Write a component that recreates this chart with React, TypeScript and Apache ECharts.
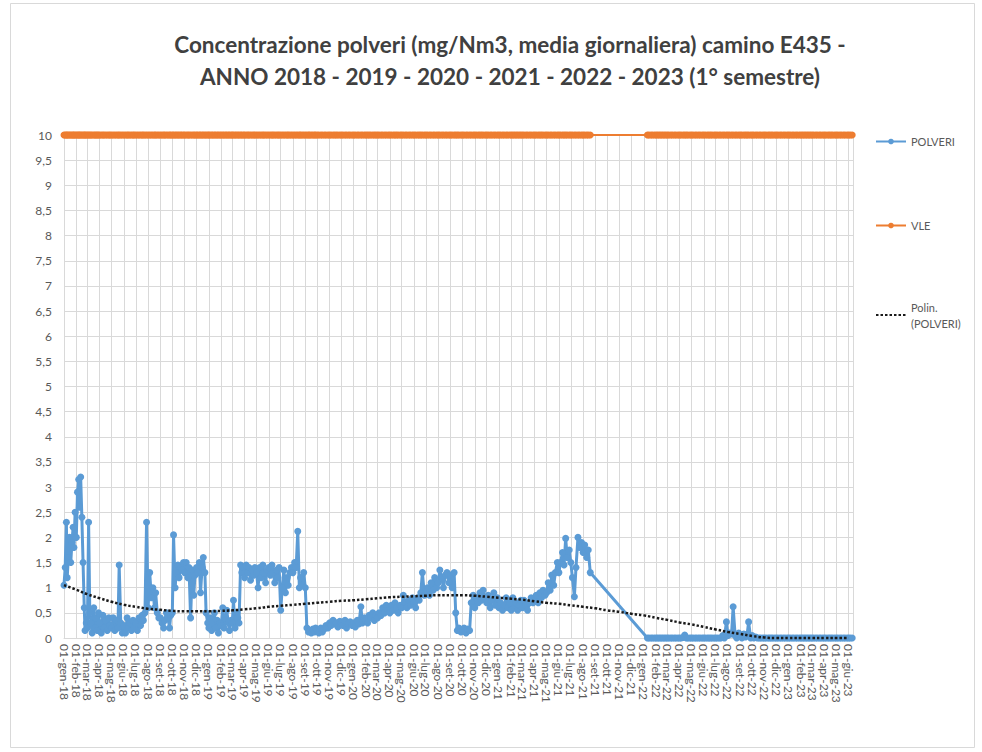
import React, { useEffect, useRef } from 'react';
import * as echarts from 'echarts';

const MONTHS_IT = ['gen', 'feb', 'mar', 'apr', 'mag', 'giu', 'lug', 'ago', 'set', 'ott', 'nov', 'dic'];
const START_YEAR = 2018;
const X_MIN: [number, number, number] = [2018, 0, 1];
const X_MAX: [number, number, number] = [2023, 5, 12];
const VLE_LIMIT = 10;
const Y_MIN = 0;
const Y_MAX = 10;
const Y_STEP = 0.5;

const TITLE_LINE_1 = 'Concentrazione polveri (mg/Nm3, media giornaliera) camino E435 -';
const TITLE_LINE_2 = 'ANNO 2018 - 2019 - 2020 - 2021 - 2022 - 2023 (1° semestre)';
const SERIES_NAMES = ['POLVERI', 'VLE', 'Polin. (POLVERI)'];

type M = (number | null)[];

// POLVERI daily concentration, samples spread through each month (gen..dic)
const polveri2018: M[] = [
  [1.05, 1.4, 2.3, 1.2, 1.6, 2.0, 1.5, 1.9, 2.2, 1.8, 2.5],
  [2.0, 2.9, 3.15, 2.6, 3.2, 2.4, 1.5, 0.6, 0.15, 0.3],
  [0.2, 2.3, 0.5, 0.3, 0.1, 0.6, 0.2, 0.4, 0.15, 0.5],
  [0.3, 0.1, 0.45, 0.2, 0.35, 0.15, 0.4, 0.25],
  [0.2, 0.4, 0.15, 0.35, 0.2, 1.45, 0.3, 0.1],
  [0.25, 0.1, 0.4, 0.2, 0.3, 0.15, 0.35, 0.2],
  [0.3, 0.15, 0.4, 0.25, 0.45, 0.35, 0.5, 2.3],
  [0.6, 1.3, 0.8, 1.0, 0.6, 0.9, 0.5, 0.4],
  [0.4, 0.3, 0.2, 0.35, 0.5, 0.4, 0.2, 0.45],
  [0.5, 2.05, 1.0, 1.3, 1.45, 1.2, 1.4, 1.35, 1.5],
  [1.3, 1.5, 1.2, 1.4, 0.4, 1.35, 0.85, 1.25],
  [1.4, 1.3, 1.5, 0.9, 1.4, 1.6, 1.3, 0.5, 0.3],
];
const polveri2019: M[] = [
  [0.2, 0.4, 0.15, 0.3, 0.5, 0.2, 0.35, 0.1, 0.3],
  [0.25, 0.6, 0.2, 0.4, 0.55, 0.3, 0.15, 0.35],
  [0.3, 0.75, 0.2, 0.5, 0.4, 0.3, 1.45, 1.3, 1.4],
  [1.2, 1.45, 1.3, 1.4, 1.15, 1.35, 1.25, 1.4],
  [1.3, 1.0, 1.4, 1.2, 1.45, 1.3, 1.1, 1.35],
  [1.4, 1.25, 1.45, 1.3, 1.1, 1.35, 1.2, 1.4],
  [0.55, 1.0, 1.35, 0.9, 1.2, 1.05, 1.3, 1.4],
  [1.3, 1.5, 1.4, 2.12, 1.0, 1.2, 1.05, 1.3],
  [1.0, 0.2, 0.12, 0.15, 0.1, 0.18, 0.12, 0.2],
  [0.15, 0.1, 0.2, 0.12, 0.18, 0.25, 0.2],
  [0.3, 0.25, 0.35, 0.28, 0.3, 0.22, 0.33],
  [0.3, 0.25, 0.35, 0.2, 0.28, 0.32, 0.25],
];
const polveri2020: M[] = [
  [0.3, 0.22, 0.35, 0.28, 0.62, 0.3, 0.4],
  [0.35, 0.3, 0.45, 0.4, 0.5, 0.35, 0.45],
  [0.4, 0.5, 0.45, 0.6, 0.5, 0.65, 0.55],
  [0.5, 0.65, 0.55, 0.7, 0.6, 0.5, 0.65],
  [0.6, 0.85, 0.7, 0.6, 0.75, 0.65, 0.8],
  [0.7, 0.6, 0.8, 0.75, 0.9, 1.3, 0.85],
  [0.9, 1.0, 0.85, 1.1, 0.95, 1.2, 1.0],
  [1.1, 1.35, 1.2, 1.0, 1.25, 1.3, 1.1],
  [1.25, 1.0, 1.3, 0.5, 0.15, 0.2, 0.12],
  [0.15, 0.2, 0.1, 0.18, 0.15, 0.7, 0.85],
  [0.6, 0.8, 0.7, 0.9, 0.75, 0.95, 0.8],
  [0.7, 0.85, 0.6, 0.75, 0.9, 0.65, 0.8],
];
const polveri2021: M[] = [
  [0.6, 0.7, 0.55, 0.65, 0.8, 0.6, 0.7],
  [0.55, 0.8, 0.6, 0.7, 0.55, 0.65, 0.75],
  [0.6, 0.75, 0.65, 0.55, 0.7, 0.8, 0.7],
  [0.75, 0.85, 0.7, 0.9, 0.8, 0.95, 0.85],
  [0.9, 1.1, 0.95, 1.25, 1.05, 1.3, 1.5],
  [1.3, 1.5, 1.7, 1.45, 1.98, 1.6, 1.75],
  [1.5, 1.2, 0.82, 1.4, 2.0, 1.8, 1.9],
  [1.7, 1.85, 1.6, 1.75, 1.3, null, null],
  [],
  [],
  [],
  [],
];
const polveri2022: M[] = [
  [null, null, 0, 0, 0, 0, 0],
  [0, 0, 0, 0, 0, 0, 0],
  [0, 0, 0, 0, 0, 0, 0],
  [0, 0, 0.01, 0.06, 0, 0, 0],
  [0, 0, 0, 0, 0, 0, 0],
  [0, 0, 0, 0, 0, 0, 0],
  [0, 0, 0, 0, 0.05, 0, 0.32],
  [0.05, 0.1, 0.08, 0.62, 0.05, 0, 0.1],
  [0.05, 0, 0.08, 0.02, 0.05, 0.32, 0],
  [0.05, 0, 0.02, 0, 0, 0, 0],
  [0, 0, 0, 0, 0, 0, 0],
  [0, 0, 0, 0, 0, 0, 0],
];
const polveri2023: M[] = [
  [0, 0, 0, 0, 0, 0, 0],
  [0, 0, 0, 0, 0, 0, 0],
  [0, 0, 0, 0, 0, 0, 0],
  [0, 0, 0, 0, 0, 0, 0],
  [0, 0, 0, 0, 0, 0, 0],
  [0, 0, 0, null, null, null, null],
];
const polveriYears = [polveri2018, polveri2019, polveri2020, polveri2021, polveri2022, polveri2023];

// Polynomial trend line, value at the 1st of each month (gen-18 .. giu-23)
const trend2018 = [1.05, 0.96, 0.87, 0.79, 0.72, 0.66, 0.62, 0.58, 0.56, 0.54, 0.53, 0.53];
const trend2019 = [0.53, 0.54, 0.55, 0.57, 0.59, 0.62, 0.64, 0.66, 0.68, 0.7, 0.72, 0.74];
const trend2020 = [0.75, 0.77, 0.79, 0.81, 0.82, 0.83, 0.84, 0.85, 0.85, 0.85, 0.84, 0.82];
const trend2021 = [0.8, 0.78, 0.76, 0.73, 0.7, 0.68, 0.65, 0.62, 0.59, 0.55, 0.52, 0.48];
const trend2022 = [0.45, 0.4, 0.36, 0.31, 0.27, 0.22, 0.17, 0.12, 0.08, 0.04, 0.01, 0.0];
const trend2023 = [0.0, 0.0, 0.0, 0.0, 0.0, 0.0];
const trendYears = [trend2018, trend2019, trend2020, trend2021, trend2022, trend2023];

function buildPolveri(): [number, number][] {
  const out: [number, number][] = [];
  polveriYears.forEach((year, yi) => {
    const y = START_YEAR + yi;
    year.forEach((vals, mi) => {
      const days = new Date(y, mi + 1, 0).getDate();
      const n = Math.max(vals.length, 7);
      vals.forEach((v, i) => {
        if (v === null) return;
        const day = 1 + Math.round((i * days) / n);
        out.push([new Date(y, mi, day).getTime(), v]);
      });
    });
  });
  return out;
}

function buildTrend(): [number, number][] {
  const out: [number, number][] = [];
  trendYears.forEach((year, yi) => {
    year.forEach((v, mi) => out.push([new Date(START_YEAR + yi, mi, 1).getTime(), v]));
  });
  return out;
}

const FONT = 'Lato, "Open Sans", sans-serif';
const LABEL_COLOR = '#595959';
const GRID_COLOR = '#d9d9d9';

export default function App() {
  const ref = useRef<HTMLDivElement>(null);
  useEffect(() => {
    if (!ref.current) return;
    const chart = echarts.init(ref.current, undefined, { renderer: 'svg' });
    const polveri = buildPolveri();
    const vle = polveri.map((p) => [p[0], VLE_LIMIT]);
    const trend = buildTrend();
    const xMin = new Date(X_MIN[0], X_MIN[1], X_MIN[2]).getTime();
    const xMax = new Date(X_MAX[0], X_MAX[1], X_MAX[2]).getTime();
    const DAY = 86400000;
    const legendText = { fontFamily: FONT, fontSize: 11, color: LABEL_COLOR };

    chart.setOption({
      animation: false,
      backgroundColor: '#ffffff',
      textStyle: { fontFamily: FONT },
      title: {
        text: TITLE_LINE_1 + '\n' + TITLE_LINE_2,
        left: 505,
        top: 23,
        textAlign: 'center',
        textStyle: {
          fontFamily: FONT,
          fontSize: 22.5,
          fontWeight: 'bold',
          color: '#404040',
          lineHeight: 32,
        },
      },
      graphic: [
        {
          type: 'rect',
          shape: { x: 10.5, y: 3.5, width: 964, height: 744 },
          style: { fill: 'none', stroke: GRID_COLOR, lineWidth: 1 },
          silent: true,
        },
      ],
      legend: [
        {
          data: [SERIES_NAMES[0]],
          left: 875,
          top: 136,
          padding: 0,
          itemWidth: 30,
          itemHeight: 7,
          textStyle: legendText,
        },
        {
          data: [SERIES_NAMES[1]],
          left: 875,
          top: 220,
          padding: 0,
          itemWidth: 30,
          itemHeight: 7,
          textStyle: legendText,
        },
        {
          data: [SERIES_NAMES[2]],
          left: 875,
          top: 291,
          padding: 0,
          itemWidth: 30,
          itemHeight: 7,
          itemStyle: { opacity: 0 },
          formatter: () => 'Polin.\n(POLVERI)',
          textStyle: { ...legendText, lineHeight: 16, padding: [16, 0, 0, 0] },
        },
      ],
      grid: { left: 64, right: 129, top: 135, bottom: 114, containLabel: false },
      xAxis: {
        type: 'time',
        min: xMin,
        max: xMax,
        splitNumber: 66,
        minInterval: 28 * DAY,
        maxInterval: 31 * DAY,
        axisLine: { show: true, lineStyle: { color: GRID_COLOR, width: 1 } },
        axisTick: { show: false },
        splitLine: { show: true, lineStyle: { color: GRID_COLOR, width: 1 } },
        axisLabel: {
          rotate: -90,
          margin: 6,
          fontFamily: FONT,
          fontSize: 12,
          color: LABEL_COLOR,
          hideOverlap: false,
          formatter: (value: number) => {
            const d = new Date(value);
            if (d.getDate() !== 1) return '';
            return '01-' + MONTHS_IT[d.getMonth()] + '-' + String(d.getFullYear()).slice(2);
          },
        },
      },
      yAxis: {
        type: 'value',
        min: Y_MIN,
        max: Y_MAX,
        interval: Y_STEP,
        axisLine: { show: false },
        axisTick: { show: false },
        splitLine: { show: true, lineStyle: { color: GRID_COLOR, width: 1 } },
        axisLabel: {
          margin: 12,
          fontFamily: FONT,
          fontSize: 12,
          color: LABEL_COLOR,
          formatter: (v: number) => String(v).replace('.', ','),
        },
      },
      series: [
        {
          name: SERIES_NAMES[0],
          type: 'line',
          data: polveri,
          color: '#5B9BD5',
          symbol: 'circle',
          symbolSize: 7,
          showSymbol: true,
          showAllSymbol: true,
          clip: false,
          lineStyle: { width: 3, color: '#5B9BD5' },
          itemStyle: { color: '#5B9BD5' },
          z: 2,
        },
        {
          name: SERIES_NAMES[1],
          type: 'line',
          data: vle,
          color: '#ED7D31',
          symbol: 'circle',
          symbolSize: 7,
          showSymbol: true,
          showAllSymbol: true,
          clip: false,
          lineStyle: { width: 2, color: '#ED7D31' },
          itemStyle: { color: '#ED7D31' },
          z: 2,
        },
        {
          name: SERIES_NAMES[2],
          type: 'line',
          data: trend,
          smooth: true,
          symbol: 'none',
          color: '#1a1a1a',
          clip: false,
          lineStyle: { width: 2.5, type: [2.5, 2], color: '#1a1a1a' },
          z: 5,
        },
      ],
    });
    return () => chart.dispose();
  }, []);
  return <div ref={ref} style={{ position: 'absolute', left: 0, top: 0, width: 982, height: 752 }} />;
}
